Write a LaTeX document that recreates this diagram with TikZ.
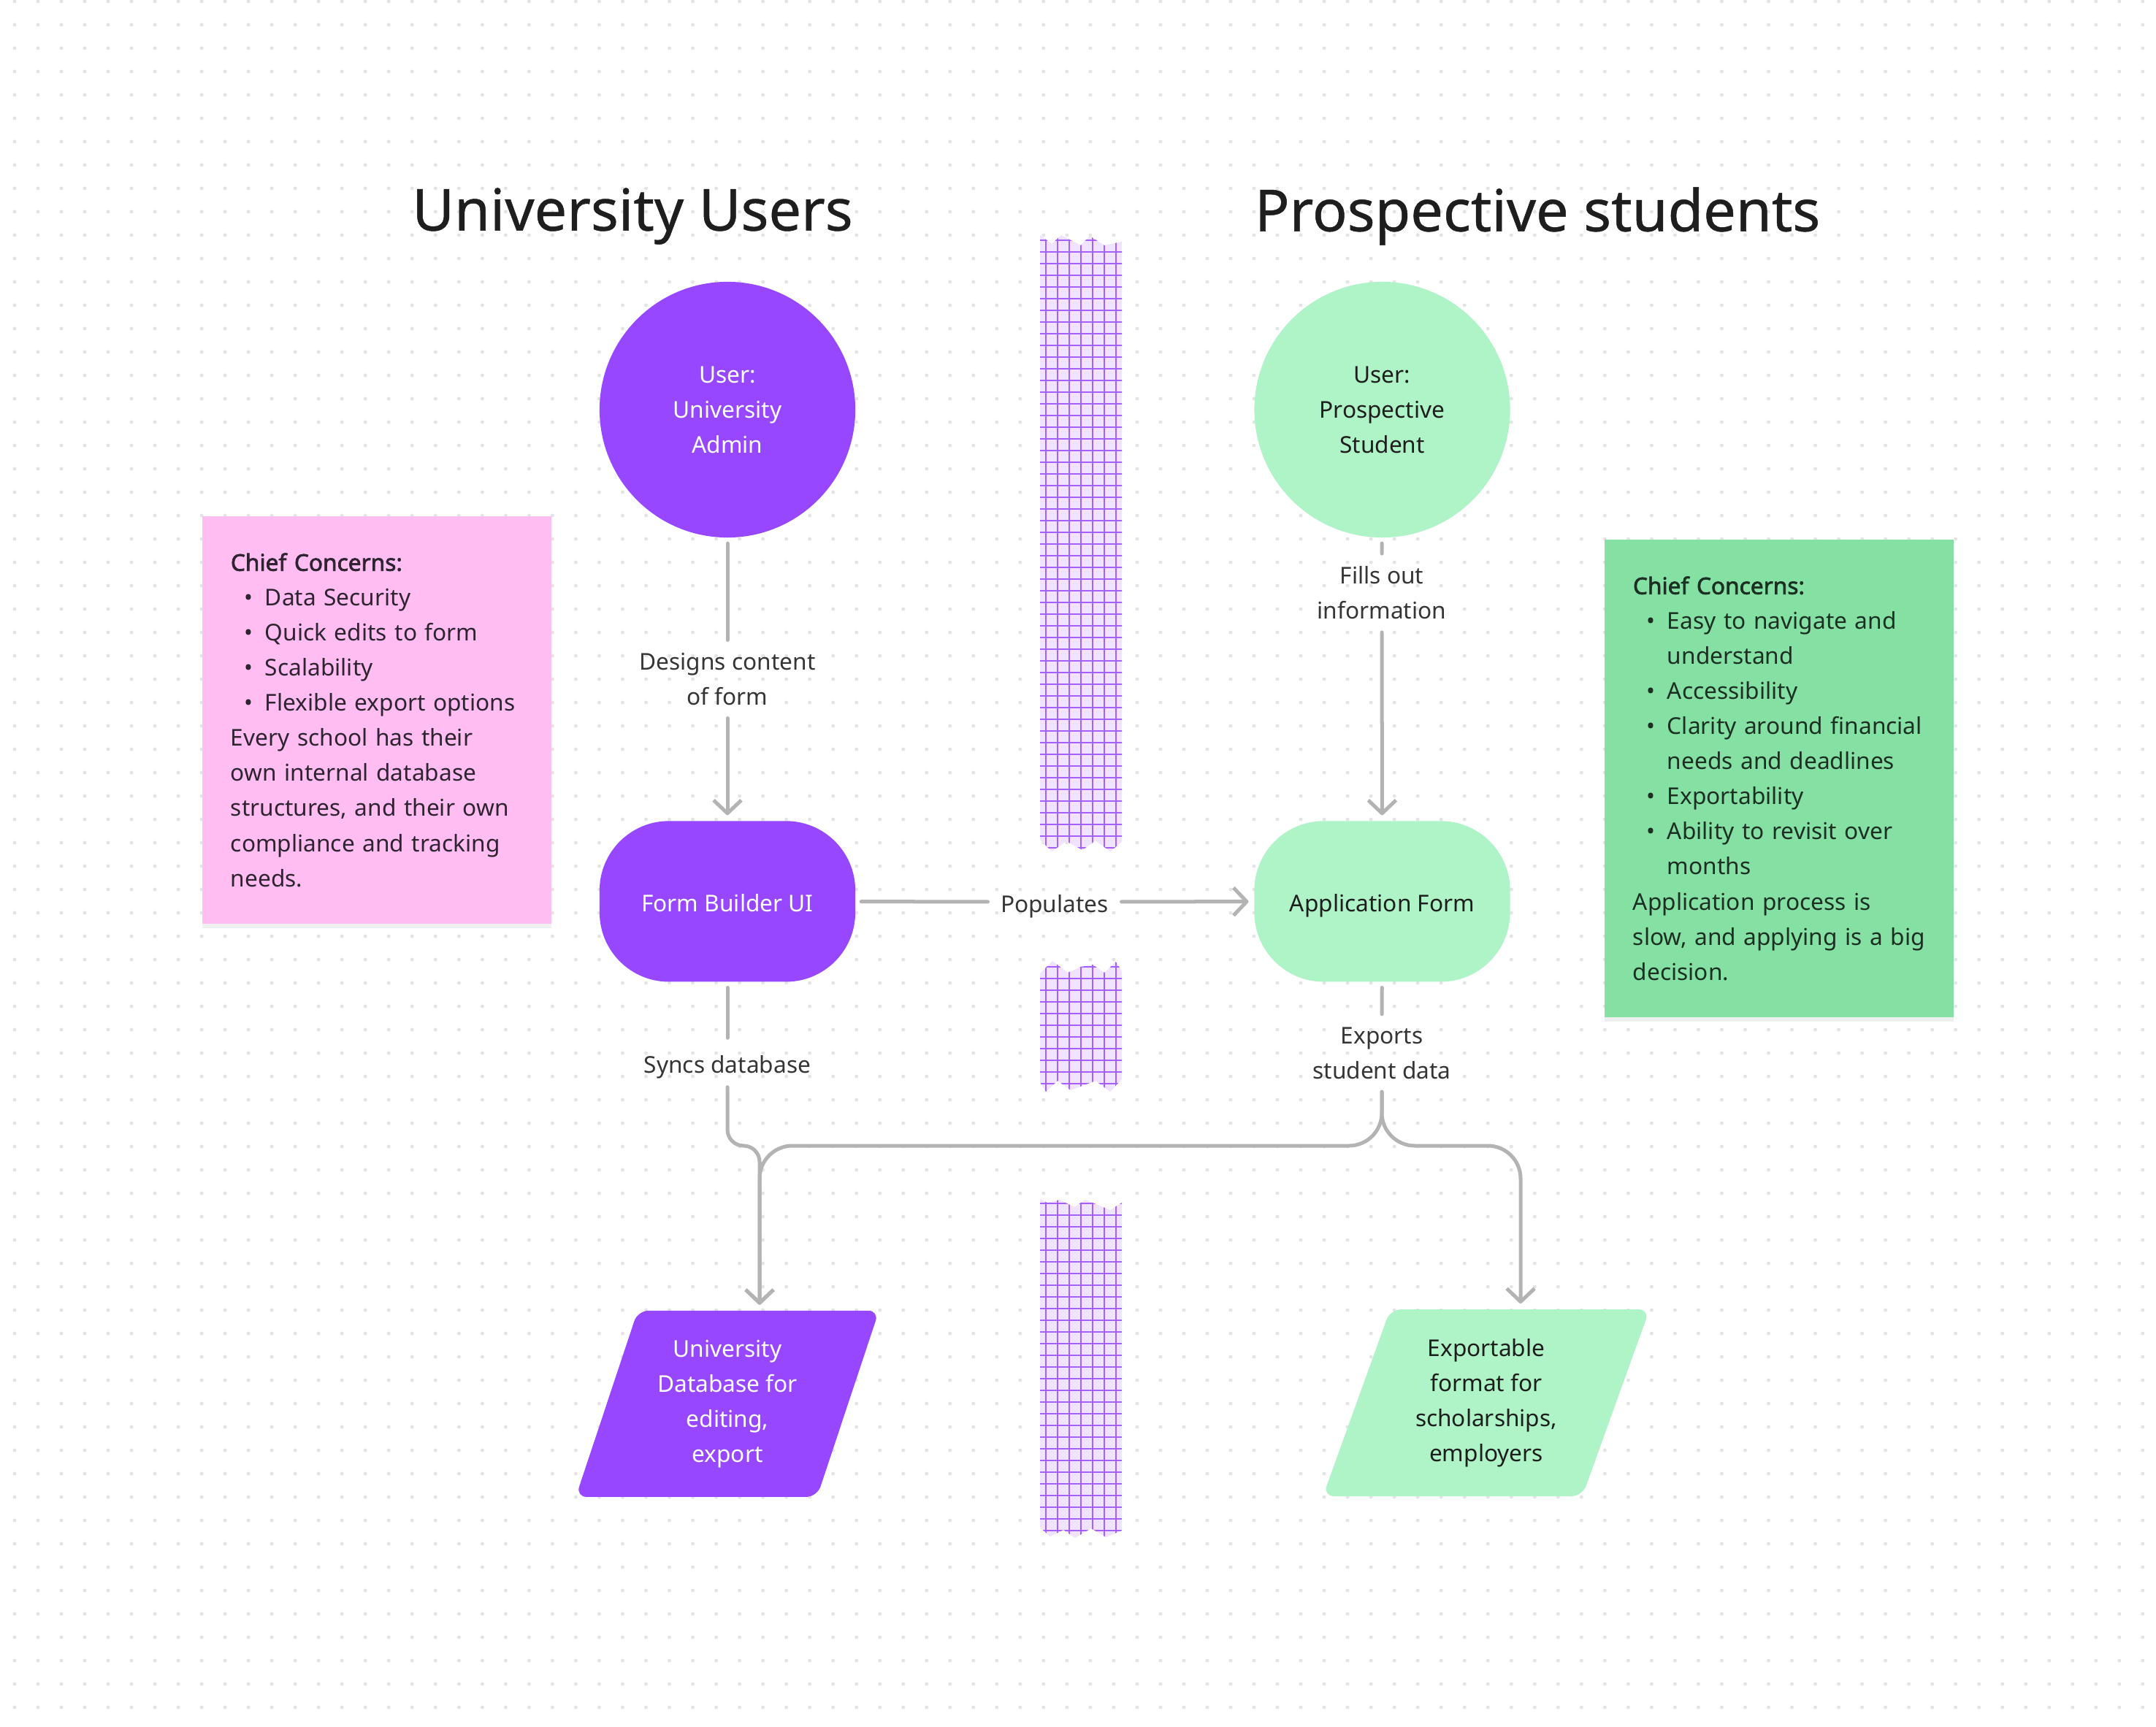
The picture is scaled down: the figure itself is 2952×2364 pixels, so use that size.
\documentclass[tikz,border=0pt]{standalone}
\usepackage{fontspec}
\setmainfont{Noto Sans}[AutoFakeBold=2.2]
\usetikzlibrary{positioning, arrows.meta, shapes.geometric, shadows}

\definecolor{adminpurple}{HTML}{9747FF}
\definecolor{studentgreen}{HTML}{AFF4C6}
\definecolor{notepink}{HTML}{FFBDF2}
\definecolor{notegreen}{HTML}{85E0A3}
\definecolor{pinkink}{HTML}{2E2330}
\definecolor{greenink}{HTML}{1B3022}
\definecolor{linkgray}{HTML}{B3B3B3}
\definecolor{dotgray}{HTML}{E4E4E4}
\definecolor{tapefill}{HTML}{F0E3FF}
\definecolor{tapeline}{HTML}{A55EFF}
\definecolor{inkdark}{HTML}{1E1E1E}

\newcommand{\bodyfont}{\fontsize{9pt}{13.66pt}\selectfont}
\newcommand{\bitem}{\hspace*{0.19cm}\makebox[0.28cm][l]{\textbullet}}
\newcommand{\bcont}{\hspace*{0.47cm}}

\begin{document}
\begin{tikzpicture}[x=0.01cm, y=-0.01cm]
	% Define styles
	\tikzset{
		user/.style={circle, minimum size=3.5cm, inner sep=0pt, outer sep=0.08cm, align=center, font=\bodyfont},
		screen/.style={rectangle, rounded corners=0.95cm, minimum width=3.5cm, minimum height=2.2cm, outer sep=0.08cm, font=\bodyfont, text height=0.30cm, text depth=0.02cm},
		store/.style={trapezium, trapezium stretches body, rounded corners=0.15cm, minimum height=2.55cm, inner xsep=0pt, inner ysep=0.4cm, outer sep=0.08cm, align=center, font=\bodyfont},
		note/.style={rectangle, align=left, font=\bodyfont, text width=4.0cm, inner xsep=0.39cm, minimum width=4.78cm, drop shadow={shadow xshift=0cm, shadow yshift=-0.06cm, opacity=0.12}},
		tag/.style={font=\bodyfont, text=inkdark!90, align=center, inner sep=0.17cm},
		onetag/.style={tag, text height=0.30cm, text depth=0.02cm},
		heading/.style={font=\fontsize{22.5pt}{27pt}\selectfont\addfontfeature{FakeBold=0.6}, text=inkdark},
		link/.style={draw=linkgray, line width=0.05cm, line cap=round},
		flow/.style={link, -{Straight Barb[length=0.18cm, width=0.38cm, line join=round]}},
		dotrow/.style={draw=dotgray, line width=0.05cm, line cap=round, dash pattern=on 0pt off 0.32cm},
		tape/.style={draw=tapeline, line width=0.02cm}
	}

	% Canvas
	\useasboundingbox (0,0) rectangle (2952,2364);
	\fill[white] (0,0) rectangle (2952,2364);
	\foreach \y in {2,34,...,2338}
		\path[dotrow] (20,\y) -- (2952,\y);

	% Tape strips
	\begin{scope}
		\clip (1424,322) -- (1440,334) -- (1453,322) -- (1470,331) -- (1480,336) -- (1492,323) -- (1512,336) -- (1536,331)
			-- (1536,1153) -- (1520,1166) -- (1500,1151) -- (1482,1164) -- (1460,1152) -- (1440,1166) -- (1424,1150) -- cycle;
		\fill[tapefill] (1400,300) rectangle (1560,1200);
		\foreach \x in {1432,1448,...,1528}
			\draw[tape] (\x,300) -- (\x,1200);
		\foreach \y in {329,345,...,1170}
			\draw[tape] (1400,\y) -- (1560,\y);
	\end{scope}
	\begin{scope}
		\clip (1424,1333) -- (1441,1316) -- (1462,1332) -- (1480,1324) -- (1496,1321) -- (1512,1332) -- (1528,1317) -- (1536,1330)
			-- (1536,1478) -- (1520,1495) -- (1500,1480) -- (1466,1493) -- (1448,1480) -- (1432,1495) -- (1424,1482) -- cycle;
		\fill[tapefill] (1400,1300) rectangle (1560,1510);
		\foreach \x in {1432,1448,...,1528}
			\draw[tape] (\x,1300) -- (\x,1510);
		\foreach \y in {1324,1340,...,1500}
			\draw[tape] (1400,\y) -- (1560,\y);
	\end{scope}
	\begin{scope}
		\clip (1424,1642) -- (1434,1647) -- (1451,1643) -- (1471,1653) -- (1486,1643) -- (1520,1657) -- (1536,1647)
			-- (1536,2096) -- (1514,2105) -- (1494,2093) -- (1472,2106) -- (1456,2095) -- (1438,2104) -- (1424,2092) -- cycle;
		\fill[tapefill] (1400,1620) rectangle (1560,2120);
		\foreach \x in {1432,1448,...,1528}
			\draw[tape] (\x,1620) -- (\x,2120);
		\foreach \y in {1648,1664,...,2110}
			\draw[tape] (1400,\y) -- (1560,\y);
	\end{scope}

	% Titles
	\node[heading] (uhead) at (866,296) {University Users};
	\node[heading] (shead) at (2105,296) {Prospective students};

	% Sticky notes
	\node[note, fill=notepink, text=pinkink, minimum height=5.57cm] (unote) at (516,986) {%
		\textbf{Chief Concerns:}\\
		\bitem Data Security\\
		\bitem Quick edits to form\\
		\bitem Scalability\\
		\bitem Flexible export options\\
		Every school has their\\
		own internal database\\
		structures,~and~their~own\\
		compliance and tracking\\
		needs.};
	\node[note, fill=notegreen, text=greenink, minimum height=6.53cm] (snote) at (2436,1066) {%
		\textbf{Chief Concerns:}\\
		\bitem Easy to navigate and\\
		\bcont understand\\
		\bitem Accessibility\\
		\bitem Clarity~around~financial\\
		\bcont needs and deadlines\\
		\bitem Exportability\\
		\bitem Ability to revisit over\\
		\bcont months\\
		Application process is\\
		slow,~and~applying~is~a~big\\
		decision.};

	% Nodes
	\node[user, fill=adminpurple, text=white] (admin) at (996,561) {User:\\University\\Admin};
	\node[user, fill=studentgreen, text=inkdark, right=5.3cm of admin] (student) {User:\\Prospective\\Student};
	\node[screen, fill=adminpurple, text=white, below=3.72cm of admin] (form) {Form Builder UI};
	\node[screen, fill=studentgreen, text=inkdark, right=5.3cm of form] (appform) {Application Form};
	\node[store, fill=adminpurple, text=white, minimum width=4.15cm,
		trapezium left angle=71.6, trapezium right angle=108.4, below=4.34cm of form] (udb)
		{University\\Database for\\editing,\\export};
	\node[store, fill=studentgreen, text=inkdark, minimum width=4.47cm,
		trapezium left angle=70.2, trapezium right angle=109.8] (exp) at (2035,1921)
		{Exportable\\format for\\scholarships,\\employers};

	% Labels
	\node[tag] (designs) at (996,930) {Designs content\\of form};
	\node[tag] (fills) at (1892,812) {Fills out\\information};
	\node[onetag] (populates) at (1444,1235) {Populates};
	\node[onetag] (syncs) at (996,1455) {Syncs database};
	\node[tag] (exports) at (1892,1442) {Exports\\student data};

	\coordinate (busl) at (1040,1569);
	\coordinate (busr) at (2082,1569);

	% Arrows
	\path [link] (admin) -- (designs);
	\path [flow] (designs) -- (form);
	\path [link] (student) -- (fills);
	\path [flow] (fills) -- (appform);
	\path [link] (form) -- (populates);
	\path [flow] (populates) -- (appform);
	\path [link] (form) -- (syncs);
	\path [flow, rounded corners=0.22cm] (syncs) |- (busl) -- ([xshift=0.44cm]udb.north);
	\path [link] (appform) -- (exports);
	\path [flow, rounded corners=0.45cm] (exports) |- (busl) -- ([xshift=0.44cm]udb.north);
	\path [flow, rounded corners=0.45cm] (exports) |- (busr) -- ([xshift=0.47cm]exp.north);
\end{tikzpicture}
\end{document}
